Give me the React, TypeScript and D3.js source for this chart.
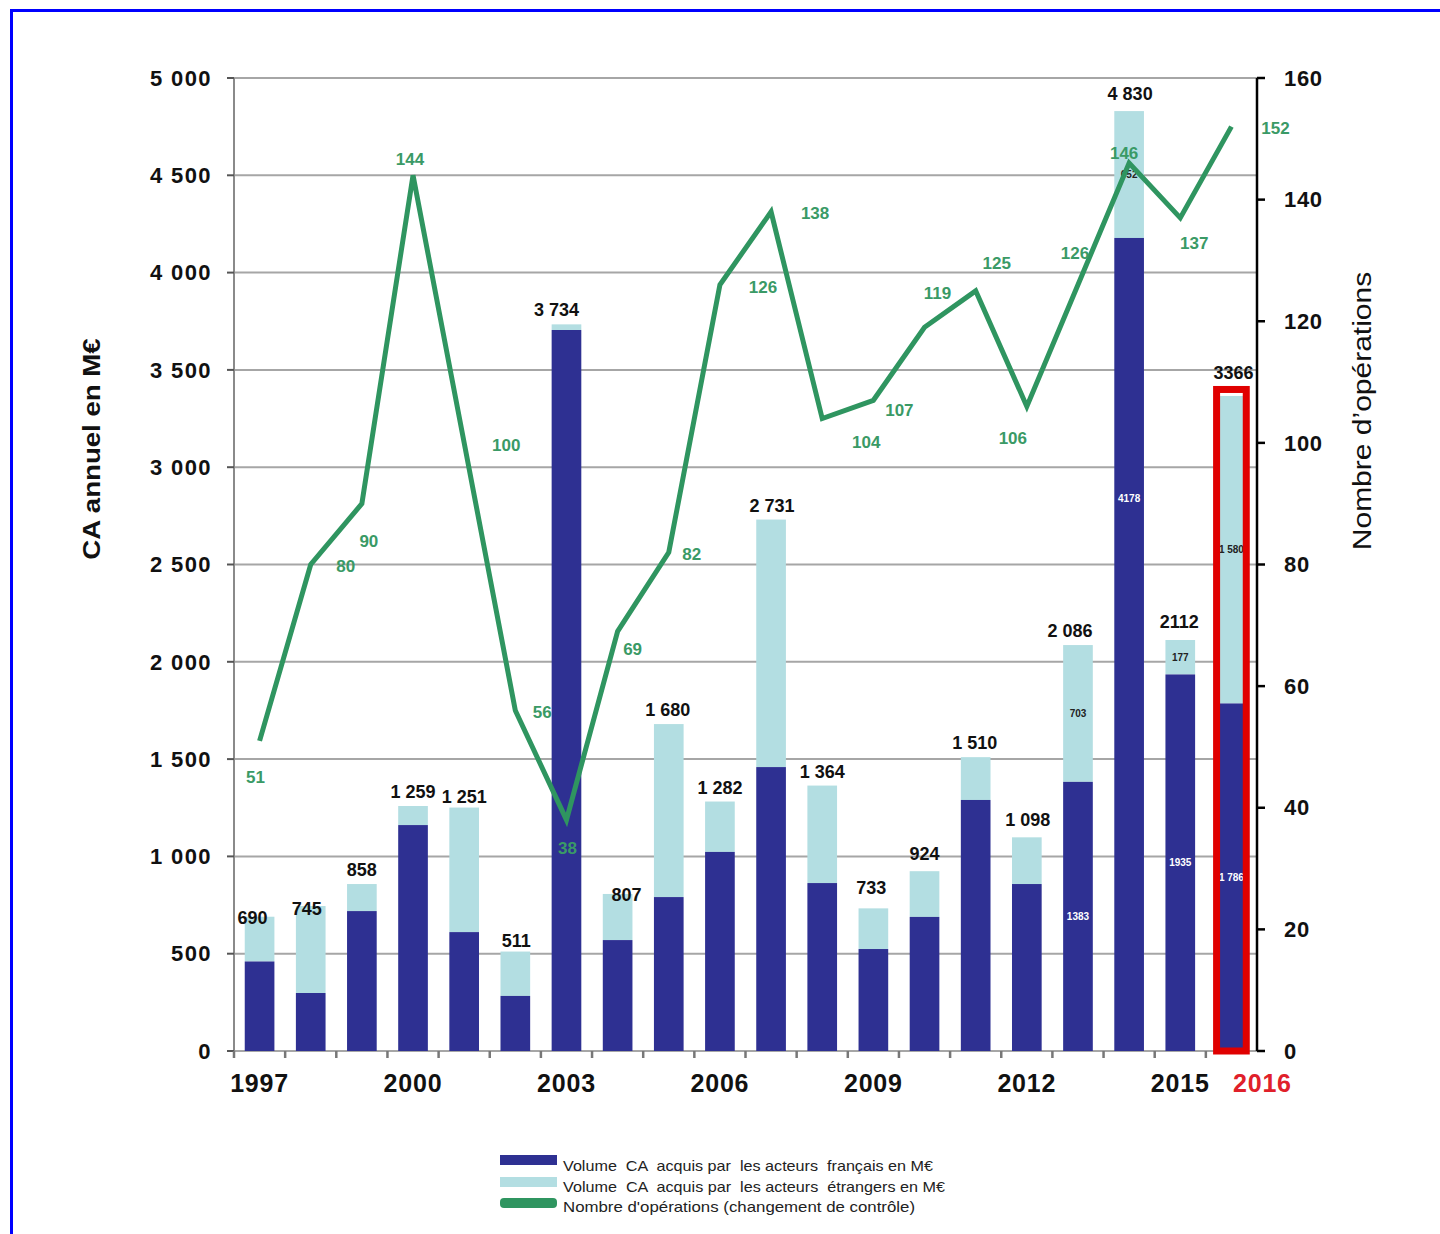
import React from "react";
import * as d3 from "d3";

const years = ["1997","1998","1999","2000","2001","2002","2003","2004","2005","2006","2007","2008","2009","2010","2011","2012","2013","2014","2015","2016"];
const frenchCA = [460, 298, 719, 1161, 611, 283, 3705, 570, 791, 1023, 1459, 863, 524, 689, 1290, 858, 1383, 4178, 1935, 1786];
const totalCA = [690, 745, 858, 1259, 1251, 511, 3734, 807, 1680, 1282, 2731, 1364, 733, 924, 1510, 1098, 2086, 4830, 2112, 3366];
const totalLabels = ["690","745","858","1 259","1 251","511","3 734","807","1 680","1 282","2 731","1 364","733","924","1 510","1 098","2 086","4 830","2112","3366"];
const operations = [51, 80, 90, 144, 100, 56, 38, 69, 82, 126, 138, 104, 107, 119, 125, 106, 126, 146, 137, 152];
const labeledYears = ["1997","2000","2003","2006","2009","2012","2015","2016"];
const leftTicks = [0, 500, 1000, 1500, 2000, 2500, 3000, 3500, 4000, 4500, 5000];
const rightTicks = [0, 20, 40, 60, 80, 100, 120, 140, 160];
const innerFrenchLabels: Record<string, string> = { "2013": "1383", "2014": "4178", "2015": "1935", "2016": "1 786" };
const innerForeignLabels: Record<string, string> = { "2013": "703", "2014": "652", "2015": "177", "2016": "1 580" };
const legendItems = [
  "Volume  CA  acquis par  les acteurs  français en M€",
  "Volume  CA  acquis par  les acteurs  étrangers en M€",
  "Nombre d'opérations (changement de contrôle)",
];

// label placement offsets (layout only)
const opLabelOffsets: [number, number][] = [
  [-4, 36], [35, 2], [7, 37], [-3, -16], [42, 2], [27, 2], [1, 28], [15, 18], [23, 2], [43, 2],
  [44, 1], [44, 23], [26, 10], [13, -34], [21, -28], [-14, 32], [-3, -32], [-5, -10], [14, 25], [44, 1],
];
const totalLabelDx = [-7, -4, 0, 0, 0, 1, -10, 9, -1, 0, 1, 0, -2, 0, -1, 1, -8, 1, -1, 2];
const totalLabelDy = [15, 17, 0, 0, 3, 3, 0, 15, 0, 0, 0, 0, -6, -3, 0, -3, 0, -3, -4, 0];
const legendWidths = [370, 382, 352];

const DARK = "#2e3092";
const LIGHT = "#b3dee2";
const GREEN = "#2f9560";
const GREEN_TXT = "#3a9a66";
const GRID = "#a6a6a6";
const FONT = "'Liberation Sans', Arial, sans-serif";

export default function App() {
  const left = 234, right = 1257, top = 78, bottom = 1051;
  const x = d3.scaleBand<string>().domain(years).range([left, right]).paddingInner(0.42).paddingOuter(0.21);
  const xb = d3.scaleBand<string>().domain(years).range([left, right]);
  const y = d3.scaleLinear().domain([0, 5000]).range([bottom, top]);
  const y2 = d3.scaleLinear().domain([0, 160]).range([bottom, top]);
  const cx = (yr: string) => (xb(yr) as number) + xb.bandwidth() / 2;
  const line = d3.line<number>().x((_, i) => cx(years[i])).y((d) => y2(d));
  const bw = x.bandwidth();

  return (
    <svg width={1440} height={1234} style={{ position: "absolute", left: 0, top: 0, background: "#fff" }} fontFamily={FONT}>
      <path d="M11.5,1234 V10.5 H1440" fill="none" stroke="#0000ff" strokeWidth={3} />
      {leftTicks.map((t) => (
        <line key={"g" + t} x1={left} x2={right} y1={y(t)} y2={y(t)} stroke={GRID} strokeWidth={2} />
      ))}
      <line x1={left} x2={left} y1={top} y2={bottom + 6} stroke="#8a8a8a" strokeWidth={2} />
      {leftTicks.map((t) => (
        <g key={"l" + t}>
          <line x1={left - 7} x2={left} y1={y(t)} y2={y(t)} stroke="#555" strokeWidth={2} />
          <text x={212} y={y(t)} dy="0.35em" textAnchor="end" fontSize={22} fontWeight="bold" fill="#111" letterSpacing={1.4}>
            {d3.format(",")(t).replace(/,/g, " ")}
          </text>
        </g>
      ))}
      {years.map((yr) => (
        <line key={"bt" + yr} x1={xb(yr) as number} x2={xb(yr) as number} y1={bottom} y2={bottom + 7} stroke="#777" strokeWidth={2.5} />
      ))}
      {years.map((yr, i) => (
        <g key={"b" + yr}>
          <rect x={x(yr)} width={bw} y={y(totalCA[i])} height={y(frenchCA[i]) - y(totalCA[i])} fill={LIGHT} />
          <rect x={x(yr)} width={bw} y={y(frenchCA[i])} height={bottom - y(frenchCA[i])} fill={DARK} />
        </g>
      ))}
      {years.filter((yr) => innerFrenchLabels[yr]).map((yr) => {
        const i = years.indexOf(yr);
        const fr = frenchCA[i];
        const tot = totalCA[i];
        const frY = yr === "2014" ? y(fr * 0.68) : y(fr * 0.5);
        const foY = y((fr + tot) / 2);
        return (
          <g key={"in" + yr} fontSize={10} fontWeight="bold" textAnchor="middle">
            <text x={cx(yr)} y={frY} dy="0.35em" fill="#fff">{innerFrenchLabels[yr]}</text>
            <text x={cx(yr)} y={foY} dy="0.35em" fill="#222">{innerForeignLabels[yr]}</text>
          </g>
        );
      })}
      <rect x={x("2016") as number} y={y(totalCA[19]) - 6.5} width={bw} height={bottom - y(totalCA[19]) + 6.5} fill="none" stroke="#e00000" strokeWidth={7} />
      <line x1={right} x2={right} y1={top} y2={bottom} stroke="#000" strokeWidth={2.5} />
      {rightTicks.map((t) => (
        <g key={"r" + t}>
          <line x1={right} x2={right + 8} y1={y2(t)} y2={y2(t)} stroke="#000" strokeWidth={2.5} />
          <text x={1284} y={y2(t)} dy="0.35em" textAnchor="start" fontSize={22} fontWeight="bold" fill="#111" letterSpacing={0.7}>{t}</text>
        </g>
      ))}
      {years.map((yr, i) => (
        <text key={"t" + yr} x={cx(yr) + totalLabelDx[i]} y={y(totalCA[i]) - (yr === "2016" ? 17 : 8) + totalLabelDy[i]} textAnchor="middle" fontSize={18} fontWeight="bold" fill="#111">
          {totalLabels[i]}
        </text>
      ))}
      <path d={line(operations) as string} fill="none" stroke={GREEN} strokeWidth={5} strokeLinejoin="miter" />
      {operations.map((v, i) => (
        <text key={"o" + i} x={cx(years[i]) + opLabelOffsets[i][0]} y={y2(v) + opLabelOffsets[i][1]} dy="0.35em" textAnchor="middle" fontSize={17} fontWeight="bold" fill={GREEN_TXT}>
          {v}
        </text>
      ))}
      {labeledYears.map((yr) => (
        <text key={"x" + yr} x={cx(yr) + (yr === "2016" ? 31 : 0)} y={1092} textAnchor="middle" fontSize={25} fontWeight="bold" fill={yr === "2016" ? "#e0202a" : "#111"} letterSpacing={0.8}>
          {yr}
        </text>
      ))}
      <text transform="translate(100,449) rotate(-90) scale(1.15,1)" textAnchor="middle" fontSize={24} fontWeight="bold" fill="#111">CA annuel en M€</text>
      <text transform="translate(1371,411) rotate(-90) scale(1.2,1)" textAnchor="middle" fontSize={25} fill="#111">Nombre d’opérations</text>
      <rect x={500} y={1155} width={57} height={10} fill={DARK} />
      <rect x={500} y={1177} width={57} height={10} fill={LIGHT} />
      <rect x={500} y={1198} width={57} height={10} rx={4} fill={GREEN} />
      {legendItems.map((s, i) => (
        <text key={"lg" + i} x={563} y={1166 + i * 20.5} dy="0.35em" fontSize={15} fill="#222" style={{ whiteSpace: "pre" }} textLength={legendWidths[i]} lengthAdjust="spacingAndGlyphs">{s}</text>
      ))}
    </svg>
  );
}
